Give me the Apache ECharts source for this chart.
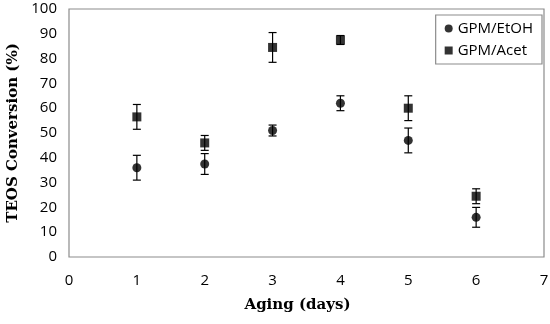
<!DOCTYPE html>
<html><head><meta charset="utf-8">
<script src="https://cdn.jsdelivr.net/npm/echarts@6/dist/echarts.min.js"></script>
<style>html,body{margin:0;padding:0;background:#fff}#c{width:550px;height:324px}</style>
</head><body><div id="c"></div>
<script>
const days = [1, 2, 3, 4, 5, 6];
const etohMean = [36, 37.5, 51, 62, 47, 16];
const etohErr = [5, 4.2, 2.2, 3, 5, 4];
const acetMean = [56.5, 46, 84.5, 87.5, 60, 24.5];
const acetErr = [5, 3, 6, 1.8, 5, 3];
const xTicks = [0, 1, 2, 3, 4, 5, 6, 7];
const yTicks = [0, 10, 20, 30, 40, 50, 60, 70, 80, 90, 100];

const chart = echarts.init(document.getElementById('c'));
function errData(mean, err) { return days.map((d, i) => [d, mean[i] - err[i], mean[i] + err[i]]); }
function errSeries(mean, err) {
  return {
    type: 'custom',
    data: errData(mean, err),
    encode: { x: 0, y: [1, 2] },
    z: 1,
    renderItem: function (params, api) {
      const x = api.value(0);
      const lo = api.coord([x, api.value(1)]);
      const hi = api.coord([x, api.value(2)]);
      const w = 4;
      const st = { stroke: '#000', lineWidth: 1.2, fill: 'none' };
      return {
        type: 'group',
        children: [
          { type: 'line', shape: { x1: lo[0], y1: lo[1], x2: hi[0], y2: hi[1] }, style: st },
          { type: 'line', shape: { x1: lo[0] - w, y1: lo[1], x2: lo[0] + w, y2: lo[1] }, style: st },
          { type: 'line', shape: { x1: hi[0] - w, y1: hi[1], x2: hi[0] + w, y2: hi[1] }, style: st }
        ]
      };
    }
  };
}
const tickFont = { fontFamily: 'Open Sans', fontSize: 15, color: '#000' };
chart.setOption({
  animation: false,
  grid: { left: 69, right: 6, top: 9, bottom: 67, show: true, borderColor: '#8c8c8c', borderWidth: 1.2,
          containLabel: false, outerBoundsMode: 'none' },
  legend: {
    right: 8, top: 15, orient: 'vertical',
    data: [{ name: 'GPM/EtOH', icon: 'circle' }, { name: 'GPM/Acet', icon: 'rect' }],
    itemWidth: 8, itemHeight: 8, itemGap: 7,
    borderColor: '#8c8c8c', borderWidth: 1.2, padding: [6, 9, 6, 9],
    textStyle: { fontFamily: 'Open Sans', fontSize: 15, color: '#000' }
  },
  xAxis: {
    type: 'value', min: xTicks[0], max: xTicks[xTicks.length - 1], interval: 1,
    name: 'Aging (days)', nameLocation: 'middle', nameGap: 41,
    nameTextStyle: { fontFamily: 'DejaVu Serif', fontWeight: 'bold', fontSize: 15, color: '#000', padding: [0, 18, 0, 0] },
    axisLine: { show: false }, axisTick: { show: false }, splitLine: { show: false },
    axisLabel: Object.assign({ margin: 16 }, tickFont)
  },
  yAxis: {
    type: 'value', min: yTicks[0], max: yTicks[yTicks.length - 1], interval: 10,
    name: 'TEOS Conversion (%)', nameLocation: 'middle', nameGap: 47, nameRotate: 90,
    nameTextStyle: { fontFamily: 'DejaVu Serif', fontWeight: 'bold', fontSize: 15, color: '#000' },
    axisLine: { show: false }, axisTick: { show: false }, splitLine: { show: false },
    axisLabel: Object.assign({ margin: 12 }, tickFont)
  },
  series: [
    errSeries(etohMean, etohErr),
    errSeries(acetMean, acetErr),
    { name: 'GPM/EtOH', type: 'scatter', symbol: 'circle', symbolSize: 9, z: 3,
      itemStyle: { color: '#000' }, data: days.map((d, i) => [d, etohMean[i]]) },
    { name: 'GPM/Acet', type: 'scatter', symbol: 'rect', symbolSize: 9, z: 3,
      itemStyle: { color: '#000' }, data: days.map((d, i) => [d, acetMean[i]]) }
  ]
});
</script></body></html>
